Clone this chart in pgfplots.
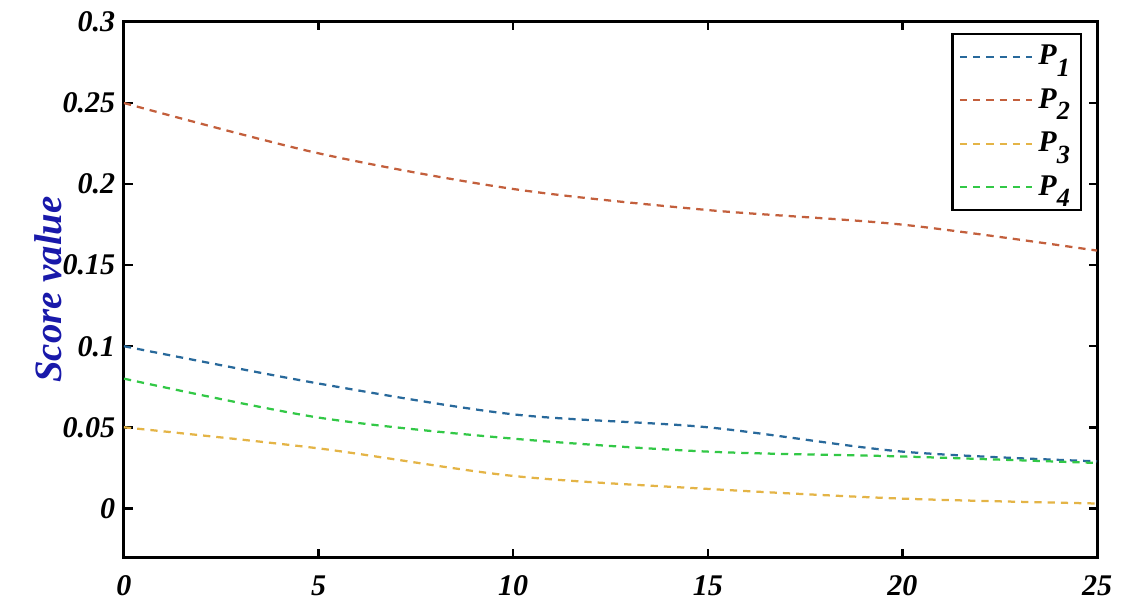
\documentclass[border=0pt]{standalone}
\usepackage{pgfplots}
\pgfplotsset{compat=1.18}
\usepackage{fontspec}
\setmainfont{Liberation Serif}

\definecolor{pone}{RGB}{40,105,155}
\definecolor{ptwo}{RGB}{195,95,60}
\definecolor{pthree}{RGB}{228,180,70}
\definecolor{pfour}{RGB}{50,200,70}
\definecolor{labblue}{RGB}{25,25,170}

\newcommand{\sub}[1]{\raisebox{-0.38em}{\fontsize{10.5}{12}\selectfont #1}}

\begin{document}
\begin{tikzpicture}
\begin{axis}[
    scale only axis,
    width=389.2pt, height=214pt,
    xmin=0, xmax=25,
    ymin=-0.03, ymax=0.3,
    xtick={0,5,10,15,20,25},
    xticklabels={0,5,10,15,20,25},
    ytick={0,0.05,0.1,0.15,0.2,0.25,0.3},
    yticklabels={0,0.05,0.1,0.15,0.2,0.25,0.3},
    tick align=inside,
    major tick length=3.4pt,
    tick style={line width=1pt, black},
    axis line style={line width=1.2pt},
    tick label style={font=\fontsize{12}{14}\selectfont\bfseries\itshape},
    xticklabel style={yshift=-4pt},
    ylabel={Score value},
    ylabel style={at={(axis description cs:-0.078,0.5)}, anchor=center,
        font=\fontsize{15.5}{17}\selectfont\bfseries\itshape, text=labblue},
    legend style={at={(0.985,0.98)}, anchor=north east, draw=black,
        line width=1pt, font=\fontsize{12}{14}\selectfont\bfseries\itshape,
        row sep=4pt, inner xsep=2.5pt, inner ysep=2.5pt},
    legend cell align={left},
    legend image code/.code={\draw[#1] (0pt,0pt) -- (29pt,0pt);},
    every axis plot/.append style={line width=0.9pt, dash pattern=on 2.9pt off 2.4pt, smooth},
]
\addplot[color=pone] coordinates {
    (0,0.100) (5,0.077) (10,0.058) (15,0.050) (20,0.035) (25,0.029)
};
\addlegendentry{P\sub{1}}
\addplot[color=ptwo] coordinates {
    (0,0.250) (5,0.219) (10,0.197) (15,0.184) (20,0.175) (25,0.159)
};
\addlegendentry{P\sub{2}}
\addplot[color=pthree] coordinates {
    (0,0.050) (5,0.037) (10,0.020) (15,0.012) (20,0.006) (25,0.003)
};
\addlegendentry{P\sub{3}}
\addplot[color=pfour] coordinates {
    (0,0.080) (5,0.056) (10,0.043) (15,0.035) (20,0.032) (25,0.028)
};
\addlegendentry{P\sub{4}}
\end{axis}
\pgfresetboundingbox
\path (current axis.south west) ++(-49.6pt,-23.2pt) coordinate (bbsw);
\path (current axis.north east) ++(10.4pt,8.8pt) coordinate (bbne);
\path (bbsw) rectangle (bbne);
\end{tikzpicture}
\end{document}
